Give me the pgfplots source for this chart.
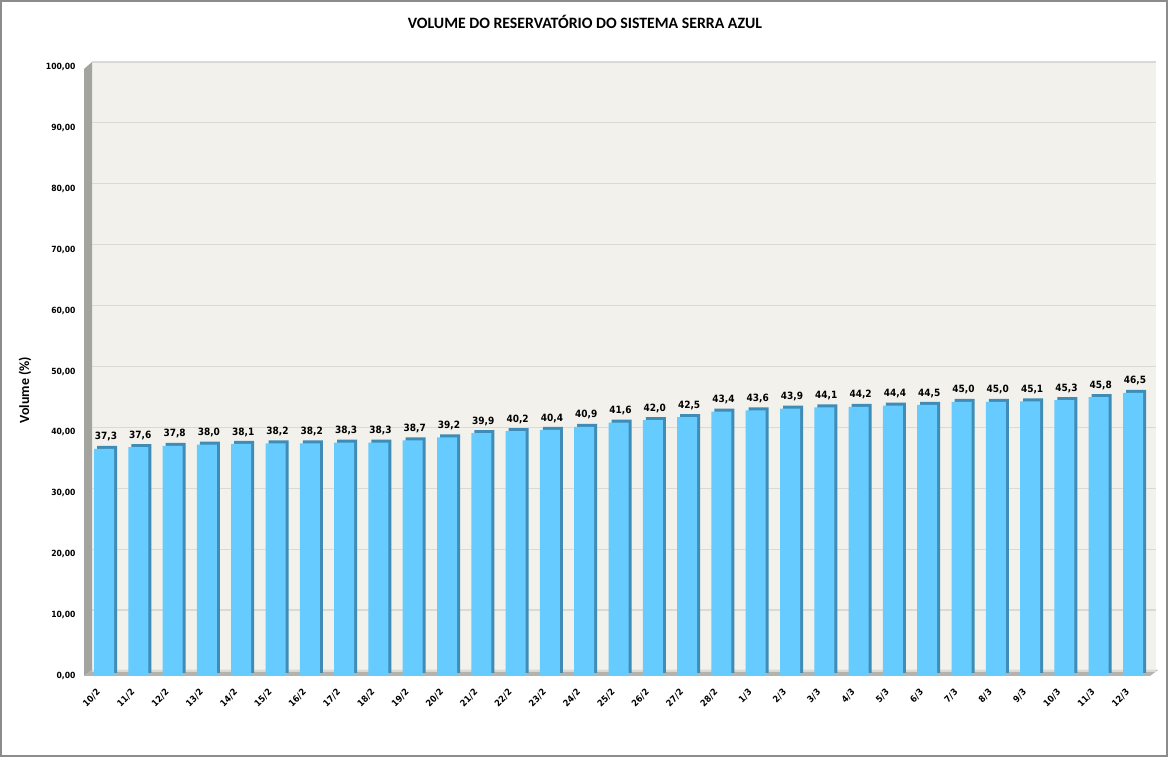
\documentclass[border=0pt]{standalone}
\usepackage{fontspec}
\setmainfont{Carlito}
\newfontfamily\tah{DejaVu Sans Condensed}
\usepackage{pgfplots}
\usepackage{pgfplotstable}
\pgfplotsset{compat=1.18}

\definecolor{backwall}{HTML}{F2F1EC}
\definecolor{sidewall}{HTML}{A4A49E}
\definecolor{floorc}{HTML}{B4B4AE}
\definecolor{gridc}{HTML}{D9D9D6}
\definecolor{barfront}{HTML}{66CCFF}
\definecolor{barside}{HTML}{3F8CB6}
\definecolor{framec}{HTML}{8C8C8C}

\pgfplotstableread{
x d v
0 10/2 37.3
1 11/2 37.6
2 12/2 37.8
3 13/2 38.0
4 14/2 38.1
5 15/2 38.2
6 16/2 38.2
7 17/2 38.3
8 18/2 38.3
9 19/2 38.7
10 20/2 39.2
11 21/2 39.9
12 22/2 40.2
13 23/2 40.4
14 24/2 40.9
15 25/2 41.6
16 26/2 42.0
17 27/2 42.5
18 28/2 43.4
19 1/3 43.6
20 2/3 43.9
21 3/3 44.1
22 4/3 44.2
23 5/3 44.4
24 6/3 44.5
25 7/3 45.0
26 8/3 45.0
27 9/3 45.1
28 10/3 45.3
29 11/3 45.8
30 12/3 46.5
}\data

\begin{document}
\begin{tikzpicture}[x=1pt,y=1pt]
\useasboundingbox (0,0) rectangle (1168,757);
% walls and floor
\fill[backwall] (92,86) rectangle (1156,695);
\fill[sidewall] (84,81) -- (84,688) -- (92,695) -- (92,87) -- cycle;
\fill[floorc] (84,81) -- (1150,81) -- (1158,87) -- (92,87) -- cycle;

\begin{axis}[
    at={(92pt,81pt)}, anchor=south west,
    scale only axis,
    width=1064pt, height=609pt,
    xmin=-0.35, xmax=30.67,
    ymin=0, ymax=100,
    ytick={0,10,...,100},
    xtick={0,...,30},
    xticklabels from table={\data}{d},
    axis line style={draw=none},
    major tick style={draw=none},
    ymajorgrids,
    major grid style={color=gridc, line width=1.2pt, yshift=5pt},
    clip=false,
    ybar, bar width=20pt,
    /pgf/number format/.cd, fixed, fixed zerofill, precision=2, use comma,
      1000 sep={}, assume math mode=true,
    /pgfplots/.cd,
    yticklabel style={font=\tah\bfseries\fontsize{8.5}{10}\selectfont, xshift=-13pt},
    xticklabel style={xshift=-8pt, yshift=-3pt, rotate=45, anchor=north east,
      font=\tah\bfseries\fontsize{9}{10}\selectfont},
]
\addplot[draw=none, fill=barside, bar shift=3pt, yshift=3pt] table[x=x, y=v] {\data};
\addplot[draw=none, fill=barfront, bar shift=0pt,
    nodes near coords={\pgfmathprintnumber[fixed,fixed zerofill,precision=1,use comma,assume math mode=true]{\pgfplotspointmeta}},
    nodes near coords style={font=\tah\bfseries\fontsize{10}{12}\selectfont,
      anchor=south, xshift=2pt, yshift=4pt, color=black}]
    table[x=x, y=v] {\data};
\end{axis}

\node[font=\bfseries\fontsize{15.8}{18}\selectfont] at (585,735) {VOLUME DO RESERVATÓRIO DO SISTEMA SERRA AZUL};
\node[rotate=90, font=\bfseries\fontsize{14}{16}\selectfont] at (25,367) {Volume (\%)};
\draw[line width=2pt, framec] (1,1) rectangle (1167,756);
\end{tikzpicture}
\end{document}
